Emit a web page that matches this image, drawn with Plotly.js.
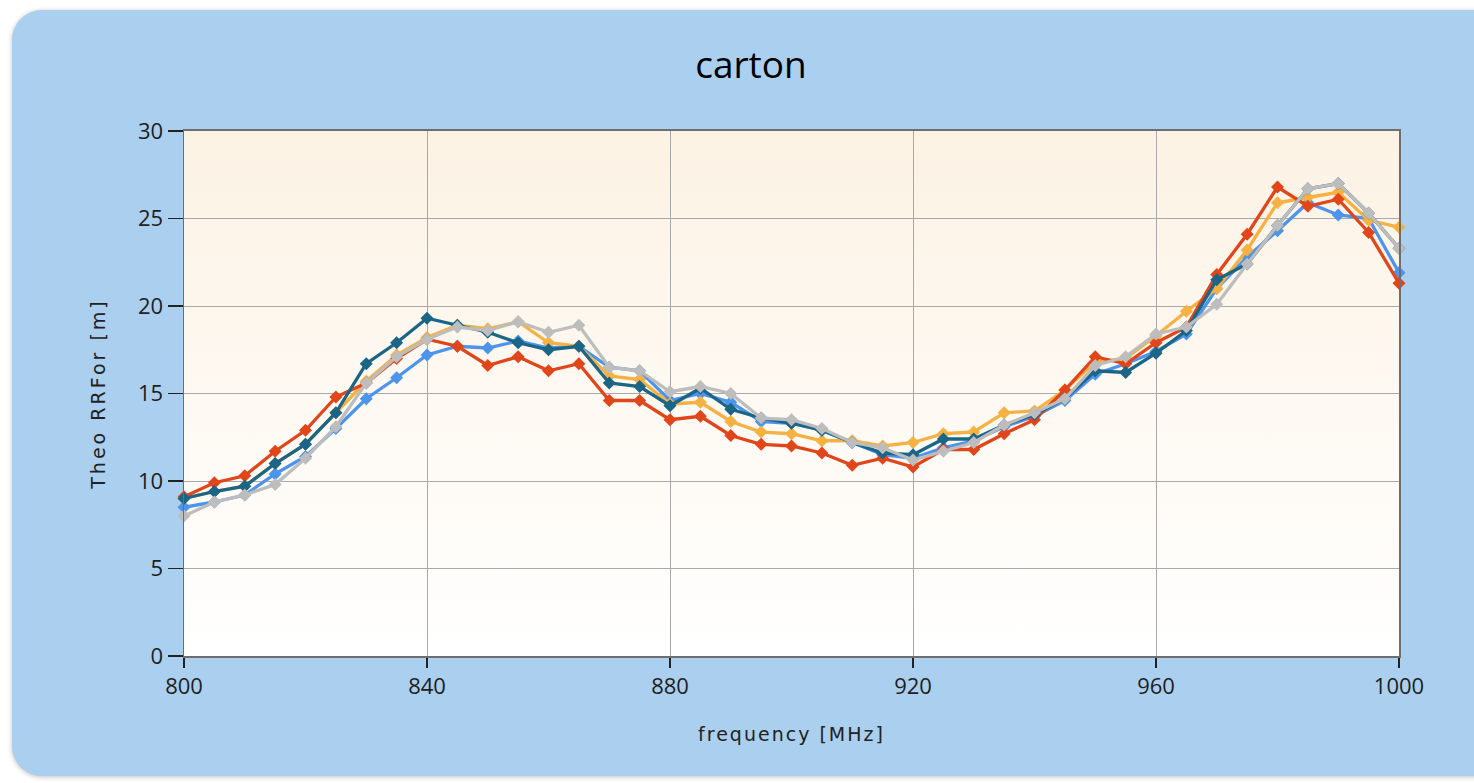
<!DOCTYPE html>
<html>
<head>
<meta charset="utf-8">
<script src="https://cdn.plot.ly/plotly-3.0.1.min.js"></script>
<style>
  html, body { margin: 0; padding: 0; background: #ffffff; overflow: hidden; }
  #card { position: absolute; left: 12px; top: 10px; width: 1500px; height: 766px;
          background: #AACFEF; border-radius: 30px;
          box-shadow: 0 1px 5px rgba(0,0,0,0.25); }
  #chart { position: absolute; left: 0; top: 0; width: 1474px; height: 783px; }
</style>
</head>
<body>
<div id="card"></div>
<div id="chart"></div>
<script>
const frequency = [800,805,810,815,820,825,830,835,840,845,850,855,860,865,870,875,880,885,890,895,900,
                   905,910,915,920,925,930,935,940,945,950,955,960,965,970,975,980,985,990,995,1000];

const seriesBlue   = [8.5,8.8,9.2,10.4,11.4,13.0,14.7,15.9,17.2,17.7,17.6,18.0,17.6,17.7,16.5,16.3,14.6,15.0,14.5,13.4,13.3,
                      12.9,12.2,11.5,11.3,11.9,12.3,13.1,13.7,14.6,16.1,16.7,17.4,18.4,21.0,22.8,24.3,25.9,25.2,25.0,21.9];
const seriesYellow = [9.0,9.4,9.7,11.0,12.1,13.9,15.7,17.2,18.2,18.9,18.7,19.1,17.9,17.7,16.0,15.8,14.4,14.5,13.4,12.8,12.7,
                      12.3,12.3,12.0,12.2,12.7,12.8,13.9,14.0,15.2,16.8,17.0,18.3,19.7,21.0,23.2,25.9,26.2,26.5,24.9,24.5];
const seriesRed    = [9.1,9.9,10.3,11.7,12.9,14.8,15.6,17.0,18.1,17.7,16.6,17.1,16.3,16.7,14.6,14.6,13.5,13.7,12.6,12.1,12.0,
                      11.6,10.9,11.3,10.8,11.8,11.8,12.7,13.5,15.2,17.1,16.7,17.9,18.8,21.8,24.1,26.8,25.7,26.1,24.2,21.3];
const seriesTeal   = [9.0,9.4,9.7,11.0,12.1,13.9,16.7,17.9,19.3,18.9,18.5,17.9,17.5,17.7,15.6,15.4,14.3,15.3,14.1,13.6,13.3,
                      12.9,12.2,11.6,11.5,12.4,12.4,13.2,13.8,14.7,16.3,16.2,17.3,18.6,21.5,22.4,24.6,26.7,27.0,25.3,23.3];
const seriesGray   = [8.0,8.8,9.2,9.8,11.3,13.1,15.6,17.1,18.1,18.8,18.6,19.1,18.5,18.9,16.5,16.3,15.1,15.4,15.0,13.6,13.5,
                      13.0,12.2,11.9,11.2,11.7,12.2,13.2,13.9,14.7,16.6,17.1,18.4,18.8,20.1,22.4,24.6,26.7,27.0,25.3,23.3];

const xTicks = [800,840,880,920,960,1000];
const yTicks = [0,5,10,15,20,25,30];

const series = [
  {name: 'blue',   y: seriesBlue,   color: '#4C94EC'},
  {name: 'yellow', y: seriesYellow, color: '#F6B143'},
  {name: 'red',    y: seriesRed,    color: '#E1461B'},
  {name: 'teal',   y: seriesTeal,   color: '#1B6587'},
  {name: 'gray',   y: seriesGray,   color: '#BDBDBD'}
];

const traces = series.map(s => ({
  type: 'scatter', mode: 'lines+markers', name: s.name,
  x: frequency, y: s.y,
  line: {color: s.color, width: 3.3},
  marker: {symbol: 'diamond', size: 10, color: s.color},
  showlegend: false, cliponaxis: false
}));

const gradSvg = '<svg xmlns="http://www.w3.org/2000/svg" width="100" height="100" preserveAspectRatio="none">' +
  '<defs><linearGradient id="g" x1="0" y1="0" x2="0" y2="1">' +
  '<stop offset="0" stop-color="#FCF2E4"/><stop offset="1" stop-color="#FFFFFF"/></linearGradient></defs>' +
  '<rect width="100" height="100" fill="url(#g)"/></svg>';
const gradUri = 'data:image/svg+xml;base64,' + btoa(gradSvg);

const tickFont = {family: '"Open Sans", "DejaVu Sans", sans-serif', size: 22, color: '#1e1e1e'};

const layout = {
  width: 1474, height: 783,
  margin: {l: 184, r: 75, t: 131, b: 127},
  paper_bgcolor: 'rgba(0,0,0,0)',
  plot_bgcolor: 'rgba(0,0,0,0)',
  title: {text: 'carton', x: 0.5095, xanchor: 'center', y: 0.917, yanchor: 'middle',
          font: {family: '"Open Sans", "DejaVu Sans", sans-serif', size: 37, color: '#000000'}},
  images: [{source: gradUri, xref: 'paper', yref: 'paper', x: 0, y: 1, sizex: 1, sizey: 1,
            sizing: 'stretch', xanchor: 'left', yanchor: 'top', layer: 'below'}],
  xaxis: {
    range: [800, 1000], tickvals: xTicks, ticktext: xTicks.map(String),
    ticks: 'outside', ticklen: 10, tickcolor: '#222', tickwidth: 1.5,
    showgrid: true, gridcolor: '#A9A9A9', gridwidth: 1,
    showline: true, linecolor: '#6E6E6E', linewidth: 2, mirror: true,
    zeroline: false, tickfont: tickFont, automargin: false,
    title: {text: 'frequency [MHz]', standoff: 28,
            font: {family: '"DejaVu Sans", sans-serif', size: 19, color: '#222'}}
  },
  yaxis: {
    range: [0, 30], tickvals: yTicks, ticktext: yTicks.map(String),
    ticks: 'outside', ticklen: 15, tickcolor: '#222', tickwidth: 1.5,
    showgrid: true, gridcolor: '#A9A9A9', gridwidth: 1,
    showline: true, linecolor: '#6E6E6E', linewidth: 1.5, mirror: true,
    zeroline: false, tickfont: tickFont, automargin: false,
    title: {text: 'Theo RRFor [m]', standoff: 27,
            font: {family: '"DejaVu Sans", sans-serif', size: 19, color: '#222'}}
  }
};

Plotly.newPlot('chart', traces, layout, {displayModeBar: false, staticPlot: true}).then(gd => {
  const xt = gd.querySelector('.xtitle');
  const yt = gd.querySelector('.ytitle');
  if (xt) xt.style.letterSpacing = '2px';
  if (yt) yt.style.letterSpacing = '3px';
});
</script>
</body>
</html>
